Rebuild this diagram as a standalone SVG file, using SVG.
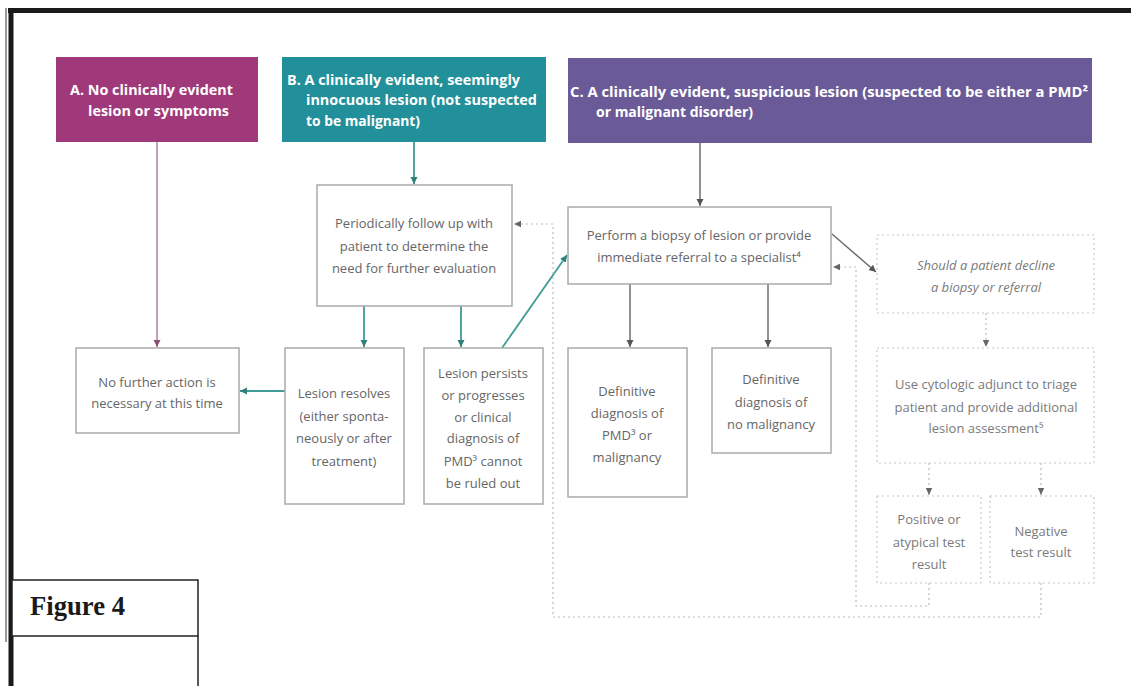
<svg xmlns="http://www.w3.org/2000/svg" width="1131" height="686" viewBox="0 0 1131 686">
<style>
.hdr{font-family:"Open Sans","Liberation Sans",sans-serif;font-weight:bold;font-size:14px;fill:#fff}
.bx{fill:#fff;stroke:#aaa;stroke-width:1.5}
.dbx{fill:#fff;stroke:#c8c8c8;stroke-width:1.2;stroke-dasharray:2 3}
.t{font-family:"Open Sans","Liberation Sans",sans-serif;font-size:13px;fill:#666;text-anchor:middle}
.tl{font-family:"Open Sans","Liberation Sans",sans-serif;font-size:13px;fill:#7a7a7a;text-anchor:middle}
.it{font-style:italic}
.c-pink{stroke:#b07fa0;stroke-width:1.5;fill:none}
.c-teal{stroke:#3f9c97;stroke-width:1.8;fill:none}
.c-gray{stroke:#6e6e6e;stroke-width:1.5;fill:none}
.c-dot{stroke:#bdbdbd;stroke-width:1.2;fill:none;stroke-dasharray:2 3}
</style>
<defs>
<marker id="mPink" markerUnits="userSpaceOnUse" markerWidth="8" markerHeight="8" refX="7" refY="4" orient="auto"><path d="M0,0.5 L7,4 L0,7.5 z" fill="#8a4f74"/></marker>
<marker id="mTeal" markerUnits="userSpaceOnUse" markerWidth="8" markerHeight="8" refX="7" refY="4" orient="auto"><path d="M0,0.5 L7,4 L0,7.5 z" fill="#2f7f7a"/></marker>
<marker id="mGray" markerUnits="userSpaceOnUse" markerWidth="8" markerHeight="8" refX="7" refY="4" orient="auto"><path d="M0,0.5 L7,4 L0,7.5 z" fill="#555"/></marker>
<marker id="mDot" markerUnits="userSpaceOnUse" markerWidth="8" markerHeight="8" refX="7" refY="4" orient="auto"><path d="M0,0.8 L7,4 L0,7.2 z" fill="#666"/></marker>
</defs>
<rect width="1131" height="686" fill="#fff"/>
<g id="frame">
<line x1="6" y1="8" x2="6" y2="642" stroke="#999" stroke-width="2"/>
<line x1="11" y1="8" x2="11" y2="686" stroke="#1a1a1a" stroke-width="5"/>
<line x1="8" y1="10.5" x2="1131" y2="10.5" stroke="#1a1a1a" stroke-width="5"/>
</g>
<g id="connectors">
<line class="c-pink" x1="157" y1="142" x2="157" y2="347" marker-end="url(#mPink)"/>
<line class="c-teal" x1="414" y1="142" x2="414" y2="184" marker-end="url(#mTeal)"/>
<line class="c-gray" x1="700" y1="143" x2="700" y2="206" marker-end="url(#mGray)"/>
<line class="c-teal" x1="364" y1="306" x2="364" y2="347" marker-end="url(#mTeal)"/>
<line class="c-teal" x1="461" y1="306" x2="461" y2="347" marker-end="url(#mTeal)"/>
<line class="c-teal" x1="285" y1="391" x2="240" y2="391" marker-end="url(#mTeal)"/>
<line class="c-teal" x1="502" y1="348" x2="567" y2="255" marker-end="url(#mTeal)"/>
<line class="c-gray" x1="630" y1="284" x2="630" y2="347" marker-end="url(#mGray)"/>
<line class="c-gray" x1="768" y1="284" x2="768" y2="347" marker-end="url(#mGray)"/>
<line class="c-gray" x1="832" y1="234" x2="876" y2="272" marker-end="url(#mGray)"/>
<line class="c-dot" x1="986" y1="313" x2="986" y2="347" marker-end="url(#mDot)"/>
<line class="c-dot" x1="929" y1="463" x2="929" y2="495" marker-end="url(#mDot)"/>
<line class="c-dot" x1="1041" y1="463" x2="1041" y2="495" marker-end="url(#mDot)"/>
<path class="c-dot" d="M929,583 V606 H856 V267 H833" marker-end="url(#mDot)"/>
<path class="c-dot" d="M1041,583 V617 H553 V224 H514" marker-end="url(#mDot)"/>
</g>
<g id="nodeA">
<rect x="56" y="57" width="202" height="85" fill="#a0397a"/>
<text class="hdr" x="70" y="95" textLength="163" lengthAdjust="spacingAndGlyphs">A. No clinically evident</text>
<text class="hdr" x="88" y="116" textLength="141" lengthAdjust="spacingAndGlyphs">lesion or symptoms</text>
</g>
<g id="nodeB">
<rect x="282" y="57" width="264" height="85" fill="#22909a"/>
<text class="hdr" x="287" y="85" textLength="233" lengthAdjust="spacingAndGlyphs">B. A clinically evident, seemingly</text>
<text class="hdr" x="306" y="105" textLength="231" lengthAdjust="spacingAndGlyphs">innocuous lesion (not suspected</text>
<text class="hdr" x="306" y="126" textLength="114" lengthAdjust="spacingAndGlyphs">to be malignant)</text>
</g>
<g id="nodeC">
<rect x="568" y="58" width="524" height="85" fill="#6a5b98"/>
<text class="hdr" x="570" y="97" textLength="518" lengthAdjust="spacingAndGlyphs">C. A clinically evident, suspicious lesion (suspected to be either a PMD²</text>
<text class="hdr" x="596" y="117" textLength="157" lengthAdjust="spacingAndGlyphs">or malignant disorder)</text>
</g>
<g id="periodic">
<rect class="bx" x="317" y="185" width="195" height="121"/>
<text class="t" x="414" y="228">Periodically follow up with</text>
<text class="t" x="414" y="251">patient to determine the</text>
<text class="t" x="414" y="273">need for further evaluation</text>
</g>
<g id="perform">
<rect class="bx" x="568" y="207" width="263" height="77"/>
<text class="t" x="699" y="240">Perform a biopsy of lesion or provide</text>
<text class="t" x="699" y="262">immediate referral to a specialist⁴</text>
</g>
<g id="noFurther">
<rect class="bx" x="76" y="348" width="163" height="85"/>
<text class="t" x="157" y="387">No further action is</text>
<text class="t" x="157" y="408">necessary at this time</text>
</g>
<g id="resolves">
<rect class="bx" x="285" y="348" width="119" height="156"/>
<text class="t" x="344" y="398">Lesion resolves</text>
<text class="t" x="344" y="421">(either sponta-</text>
<text class="t" x="344" y="443">neously or after</text>
<text class="t" x="344" y="466">treatment)</text>
</g>
<g id="persists">
<rect class="bx" x="424" y="348" width="119" height="156"/>
<text class="t" x="483" y="378">Lesion persists</text>
<text class="t" x="483" y="400">or progresses</text>
<text class="t" x="483" y="422">or clinical</text>
<text class="t" x="483" y="443">diagnosis of</text>
<text class="t" x="483" y="466">PMD³ cannot</text>
<text class="t" x="483" y="488">be ruled out</text>
</g>
<g id="defPMD">
<rect class="bx" x="568" y="348" width="119" height="149"/>
<text class="t" x="627" y="396">Definitive</text>
<text class="t" x="627" y="418">diagnosis of</text>
<text class="t" x="627" y="440">PMD³ or</text>
<text class="t" x="627" y="462">malignancy</text>
</g>
<g id="defNo">
<rect class="bx" x="712" y="348" width="119" height="105"/>
<text class="t" x="771" y="384">Definitive</text>
<text class="t" x="771" y="407">diagnosis of</text>
<text class="t" x="771" y="429">no malignancy</text>
</g>
<g id="decline">
<rect class="dbx" x="877" y="235" width="217" height="78"/>
<text class="tl it" x="986" y="270">Should a patient decline</text>
<text class="tl it" x="986" y="292">a biopsy or referral</text>
</g>
<g id="cytologic">
<rect class="dbx" x="877" y="348" width="217" height="115"/>
<text class="tl" x="986" y="389">Use cytologic adjunct to triage</text>
<text class="tl" x="986" y="412">patient and provide additional</text>
<text class="tl" x="986" y="433">lesion assessment⁵</text>
</g>
<g id="positive">
<rect class="dbx" x="877" y="496" width="104" height="87"/>
<text class="tl" x="929" y="524">Positive or</text>
<text class="tl" x="929" y="547">atypical test</text>
<text class="tl" x="929" y="569">result</text>
</g>
<g id="negative">
<rect class="dbx" x="990" y="496" width="104" height="87"/>
<text class="tl" x="1041" y="536">Negative</text>
<text class="tl" x="1041" y="557">test result</text>
</g>
<g id="figureLabel">
<rect x="12" y="580" width="186" height="56" fill="#fff" stroke="#222" stroke-width="1.5"/>
<line x1="198" y1="636" x2="198" y2="686" stroke="#222" stroke-width="1.5"/>
<text x="30" y="615" font-family="'Liberation Serif',serif" font-weight="bold" font-size="27" fill="#1a1a1a" textLength="95" lengthAdjust="spacingAndGlyphs">Figure 4</text>
</g>
</svg>
